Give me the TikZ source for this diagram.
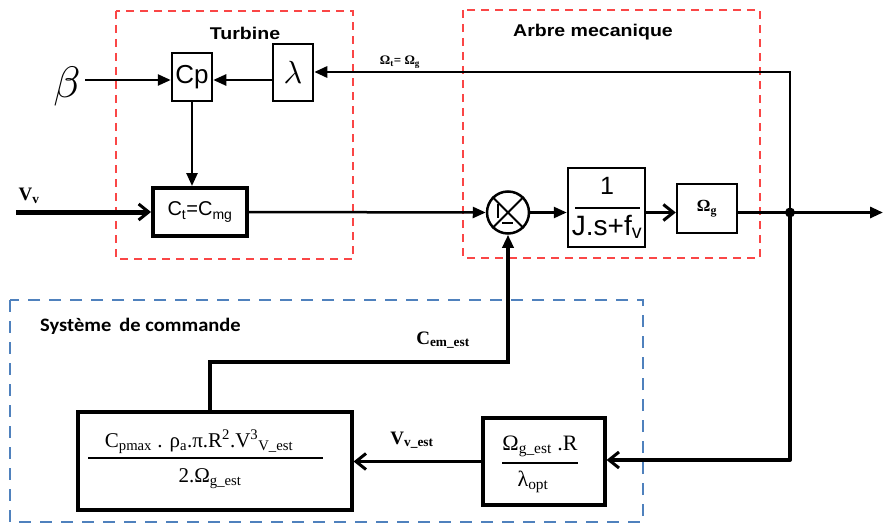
\documentclass[tikz,border=0pt]{standalone}
\usepackage{fontspec}
\setmainfont{Liberation Serif}
\setsansfont{Liberation Sans}
\newfontfamily\calib{Carlito}
\usetikzlibrary{arrows.meta,calc}
\definecolor{redd}{RGB}{250,70,70}
\definecolor{blued}{RGB}{79,129,189}
\begin{document}
\begin{tikzpicture}[x=1pt,y=-1pt,
 blk/.style={draw,line width=2.5pt,inner sep=0pt},
 conn/.style={line width=2.5pt},
 tri/.style={-{Triangle[length=13pt,width=11pt]}},
 barb/.style={-{Straight Barb[length=10pt,width=16pt,line width=3pt]}},
 reddash/.style={draw=redd,line width=1.6pt,dash pattern=on 8pt off 6pt},
 bluedash/.style={draw=blued,line width=2.8pt,dash pattern=on 12pt off 9pt},
 ttl/.style={font=\sffamily\bfseries\fontsize{17}{17}\selectfont},
 lbl/.style={font=\bfseries\fontsize{19}{19}\selectfont,inner sep=0pt}
]
\useasboundingbox (0,0) rectangle (883,524);
% group boxes
\draw[reddash] (116,11) rectangle (353,259);
\draw[reddash] (463,10) rectangle (760,258);
\draw[bluedash] (10,300) rectangle (643,522);
\node[ttl] (tt) at (245,33) {\scalebox{1.15}[1]{Turbine}};
\node[ttl] (ta) at (593,32) {\scalebox{1.15}[1]{Arbre mecanique}};
\node[anchor=west,font=\calib\bfseries\fontsize{19}{19}\selectfont,inner sep=0pt] (ts) at (40,326) {\scalebox{1.08}[1]{Système\, de commande}};
% blocks
\node[blk,minimum width=40pt,minimum height=48pt] (cp) at (192,77) {\sffamily\fontsize{26}{26}\selectfont Cp};
\node[blk,minimum width=40pt,minimum height=57pt] (lam) at (293,72.5) {\scalebox{3.2}{$\lambda$}};
\node[blk,line width=4pt,minimum width=94pt,minimum height=48pt] (ct) at (200,212) {\sffamily\fontsize{20}{20}\selectfont C\textsubscript{t}=C\textsubscript{mg}};
\node[draw,circle,line width=2.5pt,minimum size=42pt,inner sep=0pt] (sum) at (508,212.5) {};
\draw[line width=2pt] (sum.north west) -- (sum.south east) (sum.north east) -- (sum.south west);
\draw[line width=2pt] (498,204) -- (498,218);
\draw[line width=2.5pt] (502,223) -- (513,223);
\node[blk,minimum width=77pt,minimum height=79pt] (tf) at (606.5,207.5) {};
\node[font=\sffamily\fontsize{25}{25}\selectfont,inner sep=0pt] (tfn) at (607,186) {1};
\node[font=\sffamily\fontsize{28}{28}\selectfont,inner sep=0pt] (tfd) at (607,227) {J.s+f\textsubscript{v}};
\draw[line width=2pt] (575,208) -- (640,208);
\node[blk,minimum width=60pt,minimum height=49pt] (og) at (707,208.5) {\bfseries\fontsize{17}{17}\selectfont Ω\textsubscript{g}};
\node[blk,line width=3.2pt,minimum width=274pt,minimum height=98pt] (cm) at (215,461) {};
\node[font=\fontsize{21}{21}\selectfont,inner sep=0pt] (cmn) at (199,442) {C\textsubscript{pmax} . ρ\textsubscript{a}.π.R\textsuperscript{2}.V\textsuperscript{3}\textsubscript{V\_est}};
\node[font=\fontsize{21}{21}\selectfont,inner sep=0pt] (cmd) at (210,479) {2.Ω\textsubscript{g\_est}};
\draw[line width=1.5pt] (88,458) -- (323,458);
\node[blk,line width=3.2pt,minimum width=122pt,minimum height=87pt] (oe) at (544,461.5) {};
\node[font=\fontsize{22}{22}\selectfont,inner sep=0pt] (oen) at (540,446) {Ω\textsubscript{g\_est} .R};
\node[font=\fontsize{22}{22}\selectfont,inner sep=0pt] (oed) at (533,482) {λ\textsubscript{opt}};
\draw[line width=1.5pt] (502,463) -- (578,463);
% labels
\node[inner sep=0pt] (beta) at (67,87) {\scalebox{4.4}{$\beta$}};
\node[lbl] (vv) at (29,196) {V\textsubscript{v}};
\node[font=\bfseries\fontsize{13}{13}\selectfont,inner sep=0pt] (om) at (400,62) {Ω\textsubscript{t}= Ω\textsubscript{g}};
\node[lbl] (cem) at (443,340) {C\textsubscript{em\_est}};
\node[lbl] (vve) at (412,440) {V\textsubscript{v\_est}};
% coordinates
\coordinate (vin) at (16,212);
\coordinate (bs) at (85,80);
\coordinate (jn) at (790,212.5);
\coordinate (tp) at (790,72);
\coordinate (bp) at (790,460);
\coordinate (out) at (883,212.5);
\coordinate (c1) at (210,362);
% connectors
\draw[conn,tri] (bs) -- (bs -| cp.west);
\draw[conn,tri] (lam.west |- bs) -- (cp.east |- bs);
\draw[conn,tri] (cp.south) -- (cp.south |- ct.north);
\draw[line width=5pt,barb] (vin) -- (ct.west);
\draw[conn,tri] (ct.east) -- (sum.west);
\draw[conn,tri] (sum.east) -- (tf.west |- sum);
\draw[conn,barb] (tf.east |- sum) -- (og.west |- sum);
\draw[line width=3pt,tri] (og.east |- sum) -- (out);
\fill (jn) circle (5pt);
\draw[line width=2.8pt,tri] (jn) -- (tp) -- (tp -| lam.east);
\draw[line width=4pt,barb,line join=round] (jn) -- (bp) -- (bp -| oe.east);
\draw[conn,barb] (oe.west) -- (oe.west -| cm.east);
\draw[line width=4.5pt,tri] (cm.north -| c1) -- (c1) -- (c1 -| sum) -- (sum.south);
\end{tikzpicture}
\end{document}
